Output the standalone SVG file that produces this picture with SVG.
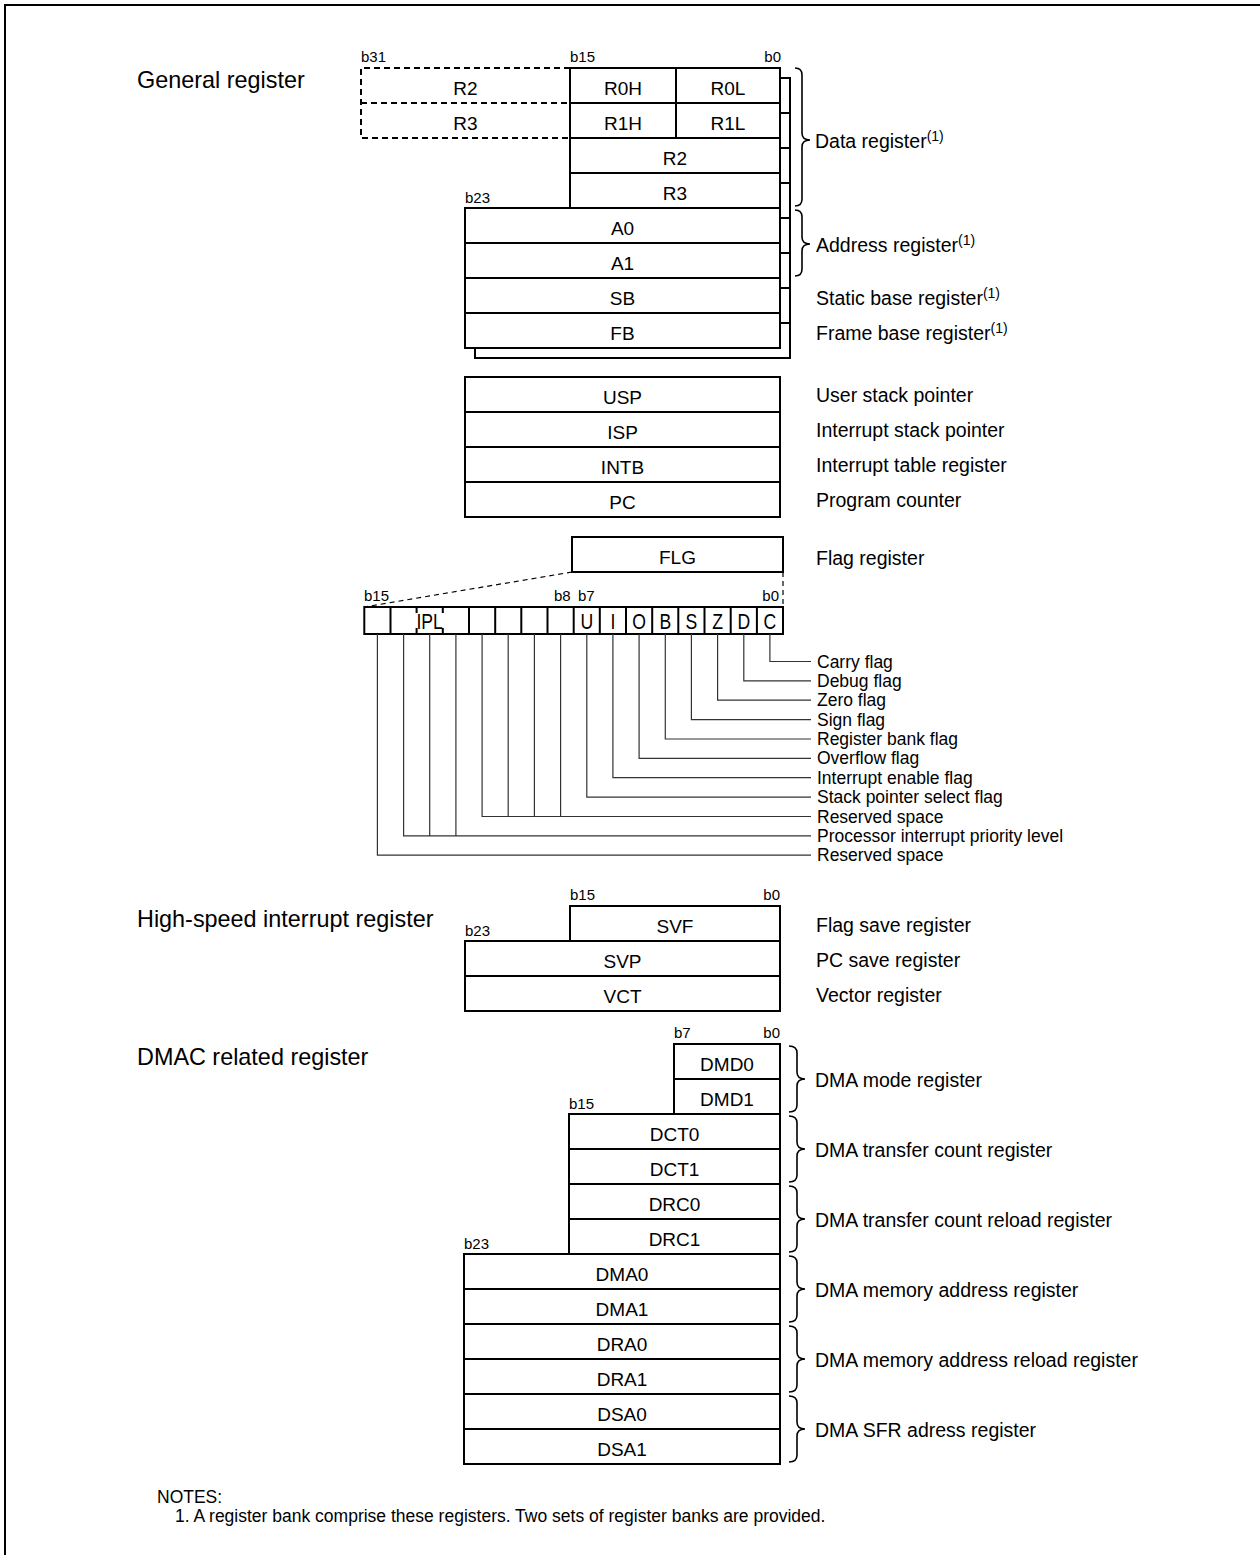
<svg xmlns="http://www.w3.org/2000/svg" width="1260" height="1555" viewBox="0 0 1260 1555">
<style>
text{font-family:"Liberation Sans",Arial,sans-serif;fill:#000}
.box{fill:#fff;stroke:#000;stroke-width:2}
.ln{stroke:#000;stroke-width:2;fill:none}
.dash{stroke:#000;stroke-width:2;fill:none;stroke-dasharray:6 4}
.dash1{stroke:#000;stroke-width:1.2;fill:none;stroke-dasharray:5 4}
.reg{font-size:19px;text-anchor:middle}
.lbl{font-size:19.5px}
.sup{font-size:14px}
.title{font-size:23.4px}
.bit{font-size:15px}
.fl{font-size:17.5px}
.flg{font-size:22px;text-anchor:middle}
.brace{stroke:#000;stroke-width:1.6;fill:none}
.fline{stroke:#333;stroke-width:1.2;fill:none}
.note{font-size:17.5px}
</style>

<path d="M5,1555 L5,5 L1260,5" class="ln" stroke-width="2.5"/>

<g id="titles">
<text class="title" x="137" y="88">General register</text>
<text class="title" x="137" y="927">High-speed interrupt register</text>
<text class="title" x="137" y="1065">DMAC related register</text>
</g>

<g id="bank-shadow">
<rect class="box" x="580" y="78" width="210" height="140"/>
<path class="ln" d="M580,113 H790 M580,148 H790 M580,183 H790"/>
<rect class="box" x="475" y="218" width="315" height="140"/>
<path class="ln" d="M475,253 H790 M475,288 H790 M475,323 H790"/>
</g>

<g id="bits-general">
<text class="bit" x="361" y="62">b31</text>
<text class="bit" x="570" y="62">b15</text>
<text class="bit" x="781" y="62" text-anchor="end">b0</text>
<text class="bit" x="465" y="203">b23</text>
</g>

<g id="reg-R2-ext">
<path class="dash" d="M570,68 H361 V138 H570 M361,103 H570"/>
<text class="reg" x="465.5" y="95">R2</text>
<text class="reg" x="465.5" y="130">R3</text>
</g>
<g id="reg-R0"><rect class="box" x="570" y="68" width="210" height="35"/><line class="ln" x1="676" y1="68" x2="676" y2="103"/>
<text class="reg" x="623" y="95">R0H</text><text class="reg" x="728" y="95">R0L</text></g>
<g id="reg-R1"><rect class="box" x="570" y="103" width="210" height="35"/><line class="ln" x1="676" y1="103" x2="676" y2="138"/>
<text class="reg" x="623" y="130">R1H</text><text class="reg" x="728" y="130">R1L</text></g>
<g id="reg-R2"><rect class="box" x="570" y="138" width="210" height="35"/><text class="reg" x="675" y="165">R2</text></g>
<g id="reg-R3"><rect class="box" x="570" y="173" width="210" height="35"/><text class="reg" x="675" y="200">R3</text></g>
<g id="reg-A0"><rect class="box" x="465" y="208" width="315" height="35"/><text class="reg" x="622.5" y="235">A0</text></g>
<g id="reg-A1"><rect class="box" x="465" y="243" width="315" height="35"/><text class="reg" x="622.5" y="270">A1</text></g>
<g id="reg-SB"><rect class="box" x="465" y="278" width="315" height="35"/><text class="reg" x="622.5" y="305">SB</text></g>
<g id="reg-FB"><rect class="box" x="465" y="313" width="315" height="35"/><text class="reg" x="622.5" y="340">FB</text></g>

<g id="labels-general">
<text class="lbl" x="815" y="148">Data register<tspan class="sup" dy="-7">(1)</tspan></text>
<text class="lbl" x="816" y="252">Address register<tspan class="sup" dy="-7">(1)</tspan></text>
<text class="lbl" x="816" y="305">Static base register<tspan class="sup" dy="-7">(1)</tspan></text>
<text class="lbl" x="816" y="340">Frame base register<tspan class="sup" dy="-7">(1)</tspan></text>
</g>

<g id="reg-USP"><rect class="box" x="465" y="377" width="315" height="35"/><text class="reg" x="622.5" y="404">USP</text></g>
<g id="reg-ISP"><rect class="box" x="465" y="412" width="315" height="35"/><text class="reg" x="622.5" y="439">ISP</text></g>
<g id="reg-INTB"><rect class="box" x="465" y="447" width="315" height="35"/><text class="reg" x="622.5" y="474">INTB</text></g>
<g id="reg-PC"><rect class="box" x="465" y="482" width="315" height="35"/><text class="reg" x="622.5" y="509">PC</text></g>
<g id="labels-pointers">
<text class="lbl" x="816" y="402">User stack pointer</text>
<text class="lbl" x="816" y="437">Interrupt stack pointer</text>
<text class="lbl" x="816" y="472">Interrupt table register</text>
<text class="lbl" x="816" y="507">Program counter</text>
</g>

<g id="reg-FLG"><rect class="box" x="572" y="537" width="211" height="35"/><text class="reg" x="677.5" y="564">FLG</text></g>
<text class="lbl" x="816" y="565">Flag register</text>

<g id="flag-bits">
<text class="bit" x="364" y="601">b15</text>
<text class="bit" x="554" y="601">b8</text>
<text class="bit" x="578" y="601">b7</text>
<text class="bit" x="779" y="601" text-anchor="end">b0</text>
<rect class="box" x="364.3" y="607" width="418.7" height="27"/>
<path class="ln" d="M390.5,607V634 M469,607V634 M495.2,607V634 M521.3,607V634 M547.5,607V634 M573.7,607V634 M599.8,607V634 M626,607V634 M652.2,607V634 M678.3,607V634 M704.5,607V634 M730.7,607V634 M756.9,607V634"/>
<path d="M416.6,607V634 M442.8,607V634" stroke="#000" stroke-width="2" stroke-dasharray="6 15"/>
<g transform="scale(0.8 1)">
<text class="flg" x="537.1" y="629">IPL</text>
<text class="flg" x="733.5" y="629">U</text>
<text class="flg" x="766.1" y="629">I</text>
<text class="flg" x="798.9" y="629">O</text>
<text class="flg" x="831.6" y="629">B</text>
<text class="flg" x="864.3" y="629">S</text>
<text class="flg" x="897" y="629">Z</text>
<text class="flg" x="929.8" y="629">D</text>
<text class="flg" x="962.4" y="629">C</text>
</g>
</g>

<g id="connectors">
<path class="dash1" d="M572,572 L364.3,607"/>
<path class="dash1" d="M783,572 V607"/>
<path class="fline" d="M769.9,634 V661.5 H811"/>
<path class="fline" d="M743.8,634 V680.9 H811"/>
<path class="fline" d="M717.6,634 V700.2 H811"/>
<path class="fline" d="M691.4,634 V719.6 H811"/>
<path class="fline" d="M665.3,634 V739 H811"/>
<path class="fline" d="M639.1,634 V758.4 H811"/>
<path class="fline" d="M612.9,634 V777.7 H811"/>
<path class="fline" d="M586.8,634 V797.1 H811"/>
<path class="fline" d="M482.1,634 V816.5 H811 M508.2,634 V816.5 M534.4,634 V816.5 M560.6,634 V816.5"/>
<path class="fline" d="M403.6,634 V835.8 H811 M429.7,634 V835.8 M455.9,634 V835.8"/>
<path class="fline" d="M377.4,634 V855.2 H811"/>
<path class="brace" d="M795,68 Q802,68 802,75 L802,133 Q802,140 810,140 Q802,140 802,147 L802,199 Q802,206 795,206"/>
<path class="brace" d="M795,210 Q802,210 802,217 L802,237 Q802,244 810,244 Q802,244 802,251 L802,269 Q802,276 795,276"/>
<path class="brace" d="M789,1046 Q797,1046 797,1053 L797,1072 Q797,1079 805,1079 Q797,1079 797,1086 L797,1105 Q797,1112 789,1112"/>
<path class="brace" d="M789,1116 Q797,1116 797,1123 L797,1142 Q797,1149 805,1149 Q797,1149 797,1156 L797,1175 Q797,1182 789,1182"/>
<path class="brace" d="M789,1186 Q797,1186 797,1193 L797,1212 Q797,1219 805,1219 Q797,1219 797,1226 L797,1245 Q797,1252 789,1252"/>
<path class="brace" d="M789,1256 Q797,1256 797,1263 L797,1282 Q797,1289 805,1289 Q797,1289 797,1296 L797,1315 Q797,1322 789,1322"/>
<path class="brace" d="M789,1326 Q797,1326 797,1333 L797,1352 Q797,1359 805,1359 Q797,1359 797,1366 L797,1385 Q797,1392 789,1392"/>
<path class="brace" d="M789,1396 Q797,1396 797,1403 L797,1422 Q797,1429 805,1429 Q797,1429 797,1436 L797,1455 Q797,1462 789,1462"/>
</g>

<g id="flag-labels">
<text class="fl" x="817" y="667.5">Carry flag</text>
<text class="fl" x="817" y="686.9">Debug flag</text>
<text class="fl" x="817" y="706.2">Zero flag</text>
<text class="fl" x="817" y="725.6">Sign flag</text>
<text class="fl" x="817" y="745">Register bank flag</text>
<text class="fl" x="817" y="764.4">Overflow flag</text>
<text class="fl" x="817" y="783.7">Interrupt enable flag</text>
<text class="fl" x="817" y="803.1">Stack pointer select flag</text>
<text class="fl" x="817" y="822.5">Reserved space</text>
<text class="fl" x="817" y="841.8">Processor interrupt priority level</text>
<text class="fl" x="817" y="861.2">Reserved space</text>
</g>

<g id="bits-hs">
<text class="bit" x="570" y="900">b15</text>
<text class="bit" x="780" y="900" text-anchor="end">b0</text>
<text class="bit" x="465" y="936">b23</text>
</g>
<g id="reg-SVF"><rect class="box" x="570" y="906" width="210" height="35"/><text class="reg" x="675" y="933">SVF</text></g>
<g id="reg-SVP"><rect class="box" x="465" y="941" width="315" height="35"/><text class="reg" x="622.5" y="968">SVP</text></g>
<g id="reg-VCT"><rect class="box" x="465" y="976" width="315" height="35"/><text class="reg" x="622.5" y="1003">VCT</text></g>
<g id="labels-hs">
<text class="lbl" x="816" y="932">Flag save register</text>
<text class="lbl" x="816" y="967">PC save register</text>
<text class="lbl" x="816" y="1002">Vector register</text>
</g>

<g id="bits-dmac">
<text class="bit" x="674" y="1038">b7</text>
<text class="bit" x="780" y="1038" text-anchor="end">b0</text>
<text class="bit" x="569" y="1109">b15</text>
<text class="bit" x="464" y="1249">b23</text>
</g>
<g id="reg-DMD0"><rect class="box" x="674" y="1044" width="106" height="35"/><text class="reg" x="727" y="1071">DMD0</text></g>
<g id="reg-DMD1"><rect class="box" x="674" y="1079" width="106" height="35"/><text class="reg" x="727" y="1106">DMD1</text></g>
<g id="reg-DCT0"><rect class="box" x="569" y="1114" width="211" height="35"/><text class="reg" x="674.5" y="1141">DCT0</text></g>
<g id="reg-DCT1"><rect class="box" x="569" y="1149" width="211" height="35"/><text class="reg" x="674.5" y="1176">DCT1</text></g>
<g id="reg-DRC0"><rect class="box" x="569" y="1184" width="211" height="35"/><text class="reg" x="674.5" y="1211">DRC0</text></g>
<g id="reg-DRC1"><rect class="box" x="569" y="1219" width="211" height="35"/><text class="reg" x="674.5" y="1246">DRC1</text></g>
<g id="reg-DMA0"><rect class="box" x="464" y="1254" width="316" height="35"/><text class="reg" x="622" y="1281">DMA0</text></g>
<g id="reg-DMA1"><rect class="box" x="464" y="1289" width="316" height="35"/><text class="reg" x="622" y="1316">DMA1</text></g>
<g id="reg-DRA0"><rect class="box" x="464" y="1324" width="316" height="35"/><text class="reg" x="622" y="1351">DRA0</text></g>
<g id="reg-DRA1"><rect class="box" x="464" y="1359" width="316" height="35"/><text class="reg" x="622" y="1386">DRA1</text></g>
<g id="reg-DSA0"><rect class="box" x="464" y="1394" width="316" height="35"/><text class="reg" x="622" y="1421">DSA0</text></g>
<g id="reg-DSA1"><rect class="box" x="464" y="1429" width="316" height="35"/><text class="reg" x="622" y="1456">DSA1</text></g>
<g id="labels-dmac">
<text class="lbl" x="815" y="1087">DMA mode register</text>
<text class="lbl" x="815" y="1157">DMA transfer count register</text>
<text class="lbl" x="815" y="1227">DMA transfer count reload register</text>
<text class="lbl" x="815" y="1297">DMA memory address register</text>
<text class="lbl" x="815" y="1367">DMA memory address reload register</text>
<text class="lbl" x="815" y="1437">DMA SFR adress register</text>
</g>

<g id="notes">
<text class="note" x="157" y="1503">NOTES:</text>
<text class="note" x="175" y="1522">1. A register bank comprise these registers. Two sets of register banks are provided.</text>
</g>
</svg>
